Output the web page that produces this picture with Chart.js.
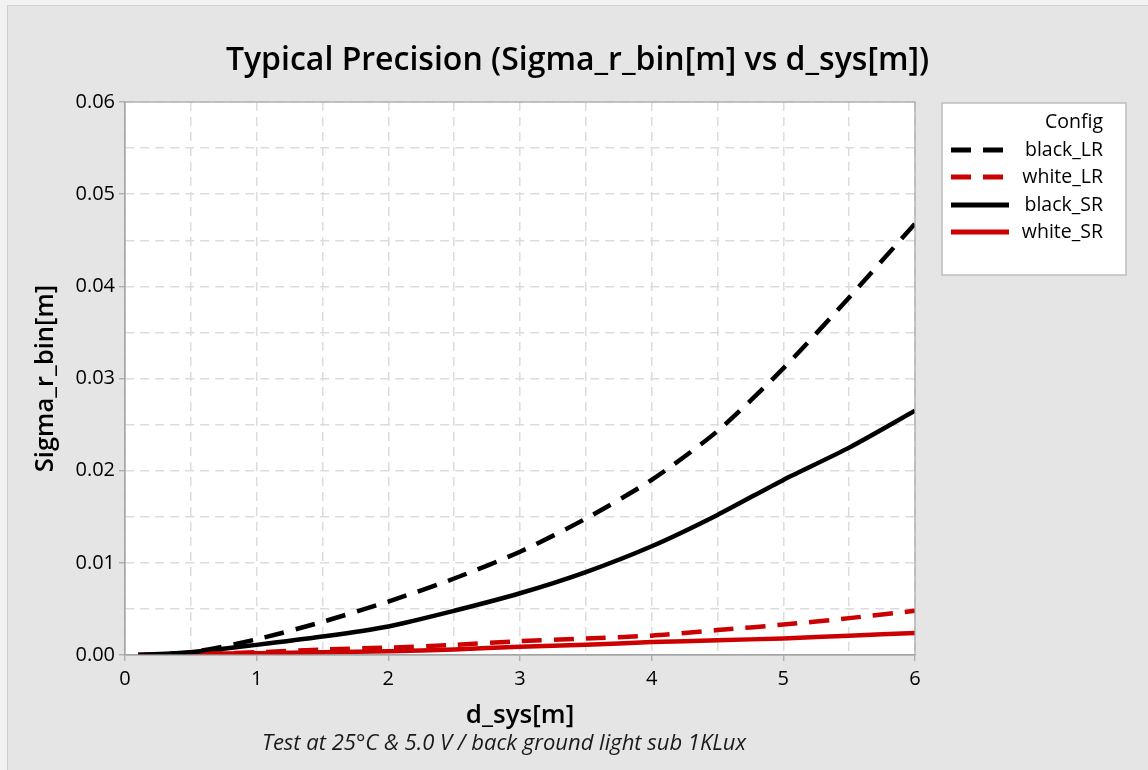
<!DOCTYPE html>
<html>
<head>
<meta charset="utf-8">
<script src="https://cdn.jsdelivr.net/npm/chart.js@4"></script>
<style>
  html, body { margin: 0; padding: 0; background: #f0f0f0; }
  #wrap { width: 1148px; height: 770px; position: relative; }
  canvas { display: block; }
</style>
</head>
<body>
<div id="wrap"><canvas id="c" width="1148" height="770"></canvas></div>
<script>
// ---- data ----
const dSys      = [0.1, 0.5, 1.0, 1.5, 2.0, 2.5, 3.0, 3.5, 4.0, 4.5, 5.0, 5.5, 6.0];
const blackLR   = [0.0000, 0.0003, 0.0017, 0.0036, 0.0058, 0.0083, 0.0112, 0.0148, 0.0190, 0.0243, 0.0311, 0.0388, 0.0468];
const whiteLR   = [0.0000, 0.0001, 0.0003, 0.0006, 0.0008, 0.0011, 0.0015, 0.0018, 0.0021, 0.0027, 0.0033, 0.0040, 0.0048];
const blackSR   = [0.0000, 0.0003, 0.0011, 0.0020, 0.0031, 0.0048, 0.0067, 0.0090, 0.0118, 0.0152, 0.0190, 0.0225, 0.0265];
const whiteSR   = [0.0000, 0.0001, 0.0002, 0.0003, 0.0004, 0.0006, 0.0009, 0.0011, 0.0014, 0.0016, 0.0018, 0.0021, 0.0024];
const seriesNames = ['black_LR', 'white_LR', 'black_SR', 'white_SR'];
const xTickLabels = ['0', '1', '2', '3', '4', '5', '6'];
const yTickLabels = ['0.00', '0.01', '0.02', '0.03', '0.04', '0.05', '0.06'];
const titleText = 'Typical Precision (Sigma_r_bin[m] vs d_sys[m])';
const xTitle = 'd_sys[m]';
const yTitle = 'Sigma_r_bin[m]';
const footnote = 'Test at 25°C & 5.0 V / back ground light sub 1KLux';
const legendTitle = 'Config';

const FONT = "'Open Sans', 'Noto Sans', sans-serif";
const RED = '#cc0000';
const DASH = [20, 12];

function pts(ys) { return dSys.map((x, i) => ({ x: x, y: ys[i] })); }

const datasets = [
  { label: seriesNames[0], data: pts(blackLR), borderColor: '#000000', borderDash: DASH },
  { label: seriesNames[1], data: pts(whiteLR), borderColor: RED, borderDash: DASH },
  { label: seriesNames[2], data: pts(blackSR), borderColor: '#000000', borderDash: [] },
  { label: seriesNames[3], data: pts(whiteSR), borderColor: RED, borderDash: [] }
].map(d => Object.assign(d, { borderWidth: 4.5, pointRadius: 0, tension: 0.25, fill: false, borderCapStyle: 'butt' }));

const isMajorY = v => Math.round(v * 1000) % 10 === 0;
const isMajorX = v => Math.abs(v - Math.round(v)) < 1e-6;

const framePlugin = {
  id: 'frame',
  beforeDraw(chart) {
    const ctx = chart.ctx, a = chart.chartArea;
    ctx.save();
    ctx.fillStyle = '#f2f2f2';
    ctx.fillRect(0, 0, chart.width, chart.height);
    ctx.fillStyle = '#e5e5e5';
    ctx.fillRect(7, 5, chart.width - 7, chart.height - 5);
    ctx.strokeStyle = '#cfcfcf';
    ctx.lineWidth = 1;
    ctx.strokeRect(7.5, 5.5, chart.width, chart.height);
    ctx.fillStyle = '#ffffff';
    ctx.fillRect(a.left, a.top, a.right - a.left, a.bottom - a.top);
    ctx.restore();
  },
  afterDraw(chart) {
    const ctx = chart.ctx, a = chart.chartArea;
    ctx.save();
    // plot frame
    ctx.strokeStyle = '#a6a6a6';
    ctx.lineWidth = 1.2;
    ctx.setLineDash([]);
    ctx.strokeRect(a.left, a.top, a.right - a.left, a.bottom - a.top);
    // footnote
    ctx.fillStyle = '#1a1a1a';
    ctx.font = "italic 22px " + FONT;
    ctx.textAlign = 'center';
    ctx.textBaseline = 'middle';
    ctx.fillText(footnote, 504, 744);
    // legend
    const bx = 942, by = 103, bw = 184, bh = 172;
    ctx.fillStyle = '#ffffff';
    ctx.fillRect(bx, by, bw, bh);
    ctx.strokeStyle = '#bdbdbd';
    ctx.lineWidth = 1.5;
    ctx.strokeRect(bx, by, bw, bh);
    ctx.fillStyle = '#000000';
    ctx.font = "19.5px " + FONT;
    ctx.textAlign = 'right';
    ctx.fillText(legendTitle, 1103, 122);
    const rowY = [150, 177, 205, 232];
    chart.data.datasets.forEach((ds, i) => {
      const y = rowY[i];
      ctx.save();
      ctx.strokeStyle = ds.borderColor;
      ctx.lineWidth = 5;
      ctx.setLineDash(ds.borderDash || []);
      ctx.beginPath();
      ctx.moveTo(951, y);
      ctx.lineTo(ds.borderDash && ds.borderDash.length ? 1003 : 1009, y);
      ctx.stroke();
      ctx.restore();
      ctx.fillStyle = '#000000';
      ctx.fillText(ds.label, 1103, y);
    });
    ctx.restore();
  }
};

new Chart(document.getElementById('c'), {
  type: 'line',
  data: { datasets: datasets },
  plugins: [framePlugin],
  options: {
    responsive: false,
    animation: false,
    layout: { padding: { left: 7, right: 0, top: 0, bottom: 0 } },
    plugins: {
      legend: { display: false },
      tooltip: { enabled: false },
      title: {
        display: true,
        text: titleText,
        color: '#000000',
        font: { family: FONT, size: 32, weight: '600' },
        padding: { top: 42, bottom: 21.6 }
      }
    },
    scales: {
      x: {
        type: 'linear',
        min: 0, max: 6,
        afterFit: s => { s.height = 115; },
        ticks: {
          stepSize: 0.5,
          autoSkip: false,
          maxRotation: 0,
          padding: 6,
          color: '#000000',
          font: { family: FONT, size: 20 },
          callback: v => isMajorX(v) ? xTickLabels[Math.round(v)] : ''
        },
        grid: {
          color: '#dcdcdc',
          lineWidth: 1.5,
          tickLength: 6,
          tickColor: c => (c.tick && isMajorX(c.tick.value)) ? '#a6a6a6' : 'rgba(0,0,0,0)',
          tickWidth: 1.2
        },
        border: { display: true, color: '#a6a6a6', width: 1.2, dash: [9, 6] },
        title: {
          display: true, text: xTitle, color: '#000000',
          font: { family: FONT, size: 26, weight: '600' },
          padding: { top: 4, bottom: 39 }
        }
      },
      y: {
        type: 'linear',
        min: 0, max: 0.06,
        afterFit: s => { s.width = 118; },
        ticks: {
          stepSize: 0.005,
          autoSkip: false,
          padding: 4,
          color: '#000000',
          font: { family: FONT, size: 20 },
          callback: v => isMajorY(v) ? yTickLabels[Math.round(v * 100)] : ''
        },
        grid: {
          color: '#dcdcdc',
          lineWidth: 1.5,
          tickLength: 6,
          tickColor: c => (c.tick && isMajorY(c.tick.value)) ? '#a6a6a6' : 'rgba(0,0,0,0)',
          tickWidth: 1.2
        },
        border: { display: true, color: '#a6a6a6', width: 1.2, dash: [9, 6] },
        title: {
          display: true, text: yTitle, color: '#000000',
          font: { family: FONT, size: 25.5, weight: '600' },
          padding: { top: 23, bottom: 0 }
        }
      },
      yRight: {
        type: 'linear',
        position: 'right',
        display: true,
        afterFit: s => { s.width = 233; },
        ticks: { display: false },
        grid: { display: false, drawTicks: false },
        border: { display: false }
      }
    }
  }
});
</script>
</body>
</html>
